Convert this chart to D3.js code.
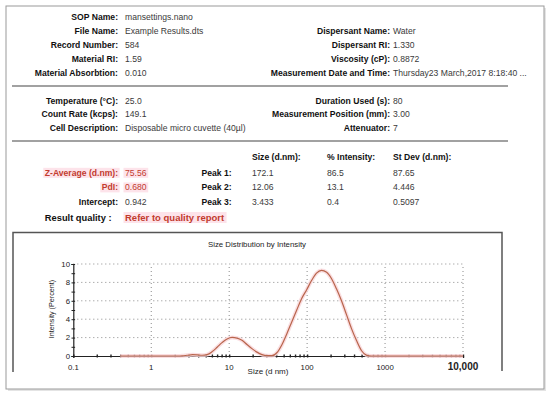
<!DOCTYPE html>
<html>
<head>
<meta charset="utf-8">
<script src="https://cdn.jsdelivr.net/npm/d3@7/dist/d3.min.js"></script>
<style>
  body { margin: 0; background: #fff; }
  svg text { font-family: "Liberation Sans", Arial, sans-serif; }
</style>
</head>
<body>
<svg id="report" width="550" height="399"></svg>
<script>
// header block, rows of label / value
var leftLabels = ["SOP Name:", "File Name:", "Record Number:", "Material RI:", "Material Absorbtion:"];
var leftValues = ["mansettings.nano", "Example Results.dts", "584", "1.59", "0.010"];
var rightLabels = ["Dispersant Name:", "Dispersant RI:", "Viscosity (cP):", "Measurement Date and Time:"];
var rightValues = ["Water", "1.330", "0.8872", "Thursday23 March,2017 8:18:40 ..."];

var midLeftLabels = ["Temperature (\u00B0C):", "Count Rate (kcps):", "Cell Description:"];
var midLeftValues = ["25.0", "149.1", "Disposable micro cuvette (40\u00B5l)"];
var midRightLabels = ["Duration Used (s):", "Measurement Position (mm):", "Attenuator:"];
var midRightValues = ["80", "3.00", "7"];

var resultLabels = ["Z-Average (d.nm):", "PdI:", "Intercept:"];
var resultValues = ["75.56", "0.680", "0.942"];
var resultFlagged = [true, true, false];

var peakHeaders = ["Size (d.nm):", "% Intensity:", "St Dev (d.nm):"];
var peakNames = ["Peak 1:", "Peak 2:", "Peak 3:"];
var peakSize = ["172.1", "12.06", "3.433"];
var peakIntensity = ["86.5", "13.1", "0.4"];
var peakStDev = ["87.65", "4.446", "0.5097"];

// size distribution
var sizes = [0.4, 0.6, 0.9, 1.3, 1.8, 2.2, 2.5, 2.9, 3.4, 3.9, 4.5, 5.2, 6.0, 7.0, 8.1, 9.4,
             10.9, 12.6, 14.6, 16.9, 19.6, 22.7, 26.3, 30.5, 35.3, 40.9, 47.3, 54.8, 63.5,
             73.6, 85.2, 98.7, 114, 132, 153, 178, 206, 238, 276, 320, 370, 429, 497, 575,
             666, 1000, 2000, 5000, 10000];
var intensity = [0, 0, 0, 0, 0, 0, 0.02, 0.08, 0.14, 0.12, 0.08, 0.15, 0.45, 0.95, 1.45, 1.85,
                 2.02, 1.95, 1.7, 1.25, 0.8, 0.42, 0.15, 0.03, 0.03, 0.35, 1.2, 2.4, 3.7,
                 5.0, 6.25, 7.2, 8.2, 9.0, 9.3, 9.1, 8.4, 7.3, 6.0, 4.5, 3.0, 1.7, 0.6, 0.1,
                 0, 0, 0, 0, 0];

var xMajor = [0.1, 1, 10, 100, 1000, 10000];
var xLabels = ["0.1", "1", "10", "100", "1000", "10,000"];
var yMajor = [0, 2, 4, 6, 8, 10];

var svg = d3.select("#report");

// outer frame with a little shadow
svg.append("rect").attr("x", 8).attr("y", 8).attr("width", 538).attr("height", 383)
    .attr("fill", "#e4e4e4");
svg.append("rect").attr("x", 6).attr("y", 6).attr("width", 538).attr("height", 383)
    .attr("fill", "#fff").attr("stroke", "#9a9a9a").attr("stroke-width", 1);

var labelX = 118, valueX = 125, rLabelX = 390, rValueX = 393;
var labelCol = "#111", valueCol = "#3a3a3a", red = "#c23b2e";

var hlLayer = svg.append("g");

function labelText(x, y, t, opts) {
  opts = opts || {};
  return svg.append("text").attr("x", x).attr("y", y)
      .attr("text-anchor", opts.anchor || "start")
      .attr("font-size", opts.size || 8.6)
      .attr("font-weight", opts.bold ? "bold" : "normal")
      .attr("fill", opts.color || valueCol)
      .text(t);
}

// pink marker behind a text
function highlight(sel) {
  var b = sel.node().getBBox();
  hlLayer.append("rect").attr("x", b.x - 1.5).attr("y", b.y)
      .attr("width", b.width + 3).attr("height", b.height)
      .attr("fill", "#fde3ea");
}

// first block
leftLabels.forEach(function(l, i) {
  var y = 19.5 + i * 14;
  labelText(labelX, y, l, {anchor: "end", bold: true, color: labelCol});
  labelText(valueX, y, leftValues[i]);
});
rightLabels.forEach(function(l, i) {
  var y = 33.5 + i * 14;
  labelText(rLabelX, y, l, {anchor: "end", bold: true, color: labelCol});
  labelText(rValueX, y, rightValues[i]);
});

svg.append("line").attr("x1", 12).attr("x2", 508).attr("y1", 86).attr("y2", 86)
    .attr("stroke", "#444").attr("stroke-width", 1.2);

// second block
midLeftLabels.forEach(function(l, i) {
  var y = 103.5 + i * 13.8;
  labelText(labelX, y, l, {anchor: "end", bold: true, color: labelCol});
  labelText(valueX, y, midLeftValues[i]);
});
midRightLabels.forEach(function(l, i) {
  var y = 103.5 + i * 13.8;
  labelText(rLabelX, y, l, {anchor: "end", bold: true, color: labelCol});
  labelText(rValueX, y, midRightValues[i]);
});

svg.append("line").attr("x1", 12).attr("x2", 508).attr("y1", 141).attr("y2", 141)
    .attr("stroke", "#444").attr("stroke-width", 1.2);

// peaks table
var colX = [252, 327, 393];
peakHeaders.forEach(function(h, j) {
  labelText(colX[j], 159.5, h, {bold: true, color: labelCol});
});
peakNames.forEach(function(p, i) {
  var y = 175.8 + i * 14.6;
  labelText(201.5, y, p, {bold: true, color: labelCol});
  labelText(colX[0], y, peakSize[i]);
  labelText(colX[1], y, peakIntensity[i]);
  labelText(colX[2], y, peakStDev[i]);
});

// results, flagged ones in red with a marker
resultLabels.forEach(function(l, i) {
  var y = 175.8 + i * 14.6;
  var f = resultFlagged[i];
  var a = labelText(labelX, y, l, {anchor: "end", bold: true, color: f ? red : labelCol});
  var b = labelText(valueX, y, resultValues[i], {color: f ? red : valueCol});
  if (f) { highlight(a); highlight(b); }
});
labelText(111.5, 221, "Result quality :", {anchor: "end", bold: true, color: labelCol, size: 9.3});
highlight(labelText(valueX, 221, "Refer to quality report", {bold: true, color: red, size: 9.5}));

// chart box (open at the bottom)
svg.append("path")
    .attr("d", "M13,372V232.5H502V371")
    .attr("fill", "none").attr("stroke", "#555").attr("stroke-width", 1.5);

svg.append("text").attr("x", 257).attr("y", 246.5).attr("text-anchor", "middle")
    .attr("font-size", 7.8).attr("fill", "#222").text("Size Distribution by Intensity");

var x = d3.scaleLog().domain([0.1, 10000]).range([73.3, 463]);
var y = d3.scaleLinear().domain([0, 10]).range([356, 264]);

var plot = svg.append("g");

// dotted grid
plot.append("g").selectAll("line").data(yMajor.slice(1)).enter().append("line")
    .attr("x1", x(0.1)).attr("x2", x(10000))
    .attr("y1", function(d) { return y(d); }).attr("y2", function(d) { return y(d); })
    .attr("stroke", "#8a8a8a").attr("stroke-width", 1).attr("stroke-dasharray", "1,3");
plot.append("g").selectAll("line").data(xMajor.slice(1)).enter().append("line")
    .attr("x1", function(d) { return x(d); }).attr("x2", function(d) { return x(d); })
    .attr("y1", y(0)).attr("y2", y(10))
    .attr("stroke", "#8a8a8a").attr("stroke-width", 1).attr("stroke-dasharray", "1,3");

// x axis: minor ticks as dots, labels separately
var xMinor = [];
for (var e = -1; e < 4; e++) {
  for (var k = 1; k < 10; k++) xMinor.push(k * Math.pow(10, e));
}
xMinor.push(10000);

var xAxis = plot.append("g").attr("transform", "translate(0," + y(0) + ")")
    .call(d3.axisBottom(x).tickValues(xMinor).tickSize(2).tickFormat(""));
xAxis.select(".domain").attr("stroke", "#222").attr("stroke-width", 1.2);
xAxis.selectAll(".tick line").attr("stroke", "#222").attr("stroke-width", 1.4)
    .attr("y1", -1.5).attr("y2", 1.5);

plot.append("g").selectAll("text").data(xMajor).enter().append("text")
    .attr("x", function(d) { return x(d); })
    .attr("y", 369.5)
    .attr("text-anchor", "middle")
    .attr("font-size", function(d, i) { return i === xMajor.length - 1 ? 10 : 7.8; })
    .attr("font-weight", function(d, i) { return i === xMajor.length - 1 ? "bold" : "normal"; })
    .attr("fill", "#222")
    .text(function(d, i) { return xLabels[i]; });

// y axis
var yAxis = plot.append("g").attr("transform", "translate(" + x(0.1) + ",0)")
    .call(d3.axisLeft(y).tickValues(d3.range(0, 11)).tickSize(2).tickFormat(""));
yAxis.select(".domain").attr("stroke", "#222").attr("stroke-width", 1.2);
yAxis.selectAll(".tick line").attr("stroke", "#222").attr("x1", 1.8).attr("x2", -1.8);

plot.append("g").selectAll("text").data(yMajor).enter().append("text")
    .attr("x", 70).attr("y", function(d) { return y(d) + 2.8; })
    .attr("text-anchor", "end").attr("font-size", 7.8).attr("fill", "#222")
    .text(function(d) { return d; });

svg.append("text").attr("transform", "translate(54,309) rotate(-90)")
    .attr("text-anchor", "middle").attr("font-size", 7.2).attr("fill", "#222")
    .text("Intensity (Percent)");
svg.append("text").attr("x", 268).attr("y", 374).attr("text-anchor", "middle")
    .attr("font-size", 8).attr("fill", "#222").text("Size (d nm)");

// distribution curve
var line = d3.line()
    .x(function(d) { return x(d[0]); })
    .y(function(d) { return y(d[1]); })
    .curve(d3.curveMonotoneX);
var pts = d3.zip(sizes, intensity);

plot.append("path").datum(pts).attr("d", line)
    .attr("fill", "none").attr("stroke", "#f9d6d9").attr("stroke-width", 4).attr("opacity", 0.8);
plot.append("path").datum(pts).attr("d", line)
    .attr("fill", "none").attr("stroke", "#b8654c").attr("stroke-width", 1.2);
</script>
</body>
</html>
